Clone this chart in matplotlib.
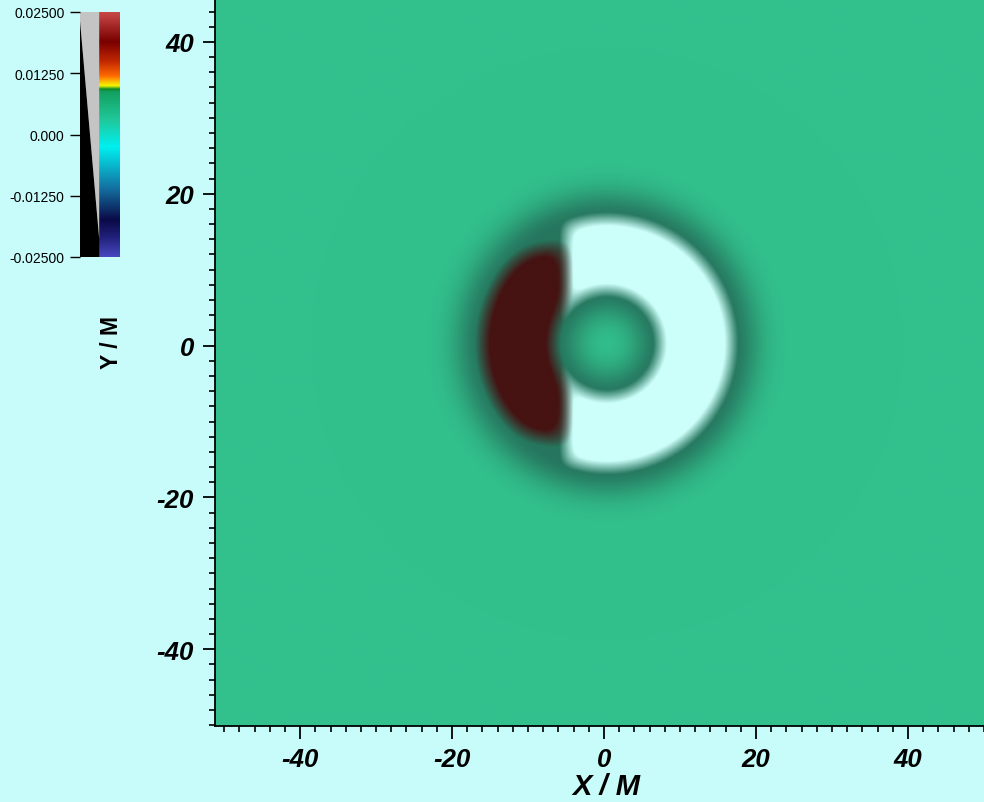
import numpy as np
import matplotlib
matplotlib.use('Agg')
import matplotlib.pyplot as plt
from matplotlib.colors import LinearSegmentedColormap
from matplotlib.patches import Polygon

# figure / page colours
page_color = '#c8fcfa'
field_green = np.array([50, 193, 141]) / 255.0
shadow_dark = np.array([38, 118, 94]) / 255.0
hole_white = np.array([204, 255, 250]) / 255.0
blob_red = np.array([70, 18, 18]) / 255.0

# axis data
x_range = [-51.2, 50.0]
y_range = [-50.1, 45.65]
major_ticks = [-40, -20, 0, 20, 40]
major_labels = ['-40', '-20', '0', '20', '40']

# shapes of the field (in units of M)
ring_center = [0.4, 0.3]
ring_radii = [7.0, 16.4]
split_x = -5.0
blob_half_height = 13.0
shadow_width = 3.8

# colour bar
cbar_ticks = [-0.025, -0.0125, 0.0, 0.0125, 0.025]
cbar_labels = ['-0.02500', '-0.01250', '0.000', '0.01250', '0.02500']
cbar_pos = [0.0, 0.08, 0.15, 0.28, 0.45, 0.56, 0.675, 0.686, 0.70, 0.74, 0.80, 0.88, 1.0]
cbar_cols = ['#4848c0', '#20207a', '#0a0a48', '#1470a0', '#00f0f0', '#20c89a',
             '#14a060', '#0a8a28', '#f8f800', '#ff6a00', '#c02800', '#7a0000', '#c84848']

W, H = 984, 803
fig = plt.figure(figsize=(W / 100, H / 100), dpi=100)
fig.patch.set_facecolor(page_color)

# ---- main field ----
ax = fig.add_axes([215 / W, (H - 727) / H, (W - 215) / W, 727 / H])
ax.set_facecolor(page_color)

xs = np.linspace(x_range[0], x_range[1], 900)
ys = np.linspace(y_range[0], y_range[1], 860)
X, Y = np.meshgrid(xs, ys)
R = np.hypot(X - ring_center[0], Y - ring_center[1])
inside = np.minimum(R - ring_radii[0], ring_radii[1] - R)


def edge(t, w):
    return np.clip(0.5 + t / w, 0, 1)


def smin(a, b, k):
    m = np.minimum(a, b)
    return m - k * np.log(np.exp(-(a - m) / k) + np.exp(-(b - m) / k))


d_out = np.maximum(-inside, 0)
s = np.exp(-(d_out / shadow_width) ** 2)
img = field_green[None, None, :] + (shadow_dark - field_green)[None, None, :] * s[..., None]

white_d = smin(inside, X - split_x, 0.6)
white_a = edge(white_d, 1.8)
red_d = smin(smin(inside, split_x - X, 0.8), blob_half_height - np.abs(Y - ring_center[1]), 1.2)
red_a = edge(red_d, 2.0)
img = img * (1 - white_a[..., None]) + hole_white[None, None, :] * white_a[..., None]
img = img * (1 - red_a[..., None]) + blob_red[None, None, :] * red_a[..., None]

ax.imshow(img, extent=[x_range[0], x_range[1], y_range[0], y_range[1]],
          origin='lower', aspect='auto', interpolation='bilinear')
ax.set_xlim(x_range)
ax.set_ylim(y_range)

for sp in ['top', 'right']:
    ax.spines[sp].set_visible(False)
for sp in ['left', 'bottom']:
    ax.spines[sp].set_linewidth(1.3)

ax.set_xticks(major_ticks)
ax.set_yticks(major_ticks)
ax.set_xticklabels(major_labels)
ax.set_yticklabels(major_labels)
ax.set_xticks(np.arange(-50, 51, 2), minor=True)
ax.set_yticks(np.arange(-50, 46, 2), minor=True)
ax.tick_params(which='major', direction='out', length=9, width=1.3, pad=6)
ax.tick_params(which='minor', direction='out', length=4.5, width=1.2)
for lab in ax.get_xticklabels() + ax.get_yticklabels():
    lab.set_fontfamily('Liberation Sans')
    lab.set_fontweight('bold')
    lab.set_fontstyle('italic')
    lab.set_fontsize(18.5)

fig.text(112 / W, 1 - 343 / H, 'Y / M', rotation=90, ha='center', va='center',
         fontsize=16.5, fontweight='bold', family='Liberation Sans')
fig.text(606 / W, 1 - 787 / H, 'X / M', ha='center', va='center',
         fontsize=21, fontweight='bold', fontstyle='italic', family='Liberation Sans')

# ---- colour bar ----
cax = fig.add_axes([80 / W, 1 - 258 / H, 40 / W, 245 / H])
cax.set_xlim(0, 1)
cax.set_ylim(-0.025, 0.025)
cmap = LinearSegmentedColormap.from_list('pv', list(zip(cbar_pos, cbar_cols)))
grad = np.linspace(-0.025, 0.025, 256)[:, None]
cax.imshow(grad, extent=[0.48, 1, -0.025, 0.025], origin='lower', aspect='auto',
           cmap=cmap, vmin=-0.025, vmax=0.025, interpolation='bilinear')
cax.add_patch(Polygon([[0, 0.025], [0.48, 0.025], [0.48, -0.0213], [0, 0.0232]],
                      closed=True, facecolor='#c4c4c4', edgecolor='none'))
cax.add_patch(Polygon([[0, -0.025], [0.48, -0.025], [0.48, -0.0213], [0, 0.0232]],
                      closed=True, facecolor='black', edgecolor='none'))
for sp in cax.spines.values():
    sp.set_visible(False)
cax.set_xticks([])
cax.set_yticks(cbar_ticks)
cax.set_yticklabels(cbar_labels)
cax.tick_params(axis='y', direction='out', length=7, width=1.0, pad=4, labelsize=10)
for lab in cax.get_yticklabels():
    lab.set_fontfamily('Liberation Sans')

fig.savefig('out.png', dpi=100, facecolor=page_color)
